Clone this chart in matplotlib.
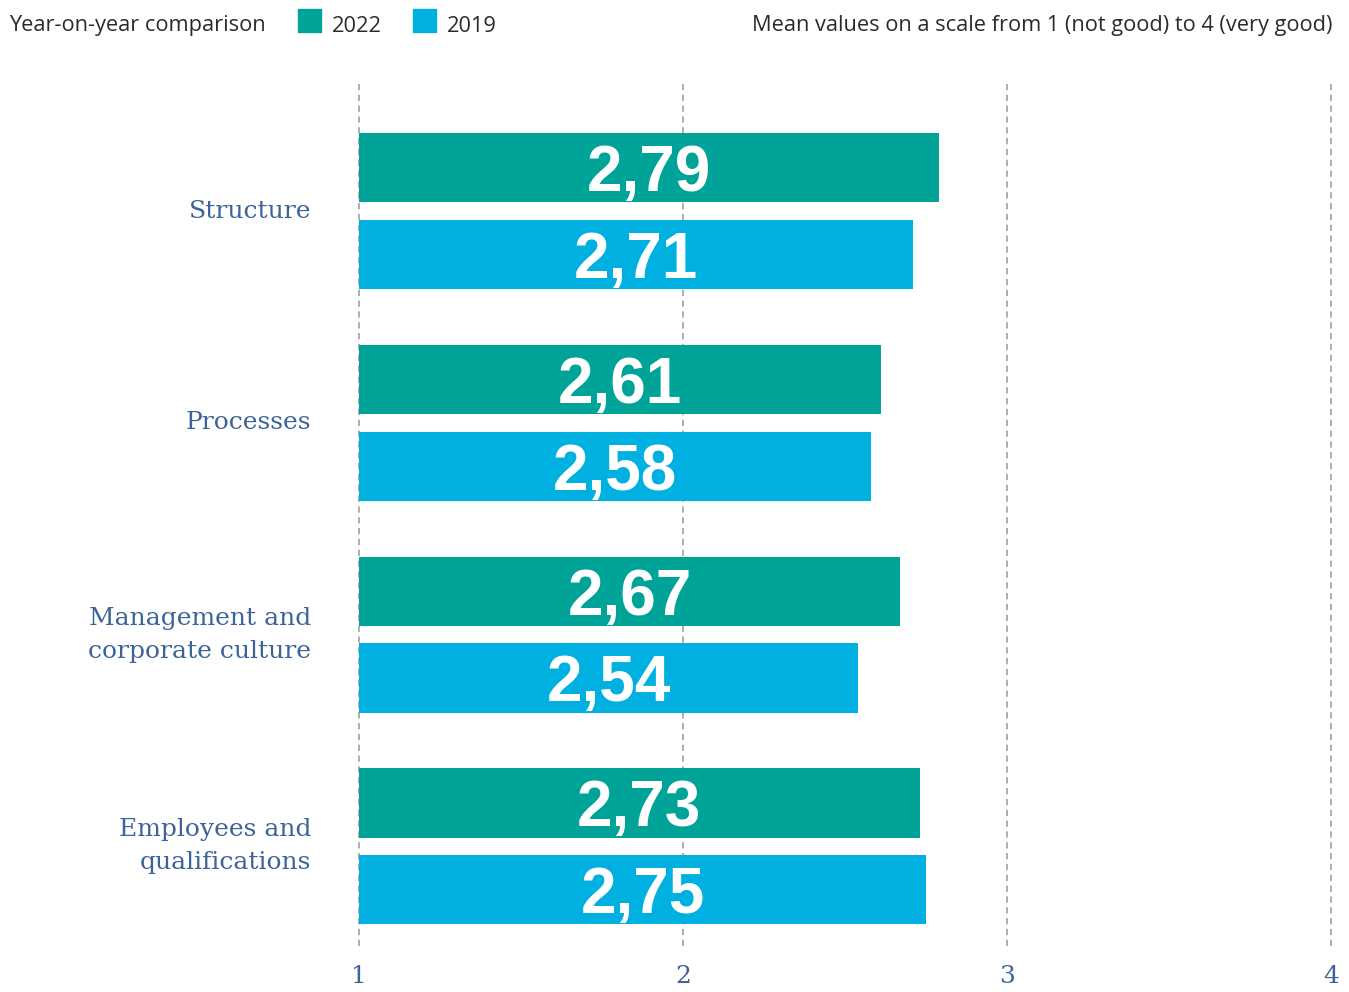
import numpy as np
import matplotlib.pyplot as plt

categories = ["Structure", "Processes", "Management and\ncorporate culture",
              "Employees and\nqualifications"]
values_2022 = [2.79, 2.61, 2.67, 2.73]
values_2019 = [2.71, 2.58, 2.54, 2.75]
xticks = [1, 2, 3, 4]

teal = "#00a398"
cyan = "#00b0e0"
label_blue = "#3d6498"
header_col = "#2b2b2b"
serif = "DejaVu Serif"

fig = plt.figure(figsize=(13.49, 9.92), dpi=100)
W, H = 1349, 992
# axes box in pixels: x 359..1331, y 84..946
ax = fig.add_axes([359 / W, 1 - 946 / H, (1331 - 359) / W, (946 - 84) / H])

pos = np.arange(len(categories))
bar_h = 0.326
off = 0.205
ax.set_xlim(1, 4)
ax.set_ylim((946 - 211) / 211.8, (84 - 211) / 211.8)

for x in xticks:
    ax.axvline(x, color="#a8a8a8", lw=1.3, ls=(0, (3.5, 2.5)), zorder=0, clip_on=False)

ax.barh(pos - off, np.array(values_2022) - 1, left=1, height=bar_h, color=teal, zorder=2)
ax.barh(pos + off, np.array(values_2019) - 1, left=1, height=bar_h, color=cyan, zorder=2)

for i in pos:
    for v, dy in ((values_2022[i], -off), (values_2019[i], off)):
        ax.text((1 + v) / 2, i + dy + 0.03, f"{v:.2f}".replace(".", ","), ha="center",
                va="center", color="white", fontsize=46, fontweight="bold",
                family="Liberation Sans", zorder=3)
    ax.text(-0.049, i, categories[i], transform=ax.get_yaxis_transform(), ha="right",
            va="center", color=label_blue, fontsize=18, family=serif,
            fontweight="light", linespacing=1.55)

ax.set_xticks(xticks)
ax.set_xticklabels([str(t) for t in xticks], family=serif, fontsize=18,
                   color=label_blue)
ax.tick_params(axis="x", length=0, pad=14)
ax.set_yticks([])
for s in ax.spines.values():
    s.set_visible(False)

# header row with legend
fig.text(9 / W, 1 - 26 / H, "Year-on-year comparison", fontsize=15.7, family="Open Sans",
         color=header_col, va="center")
for x0, col, lab in ((298, teal, "2022"), (413, cyan, "2019")):
    fig.patches.append(plt.Rectangle((x0 / W, 1 - 32 / H), 23 / W, 23 / H,
                                     transform=fig.transFigure, color=col))
    fig.text((x0 + 34) / W, 1 - 26 / H, lab, fontsize=15.7, family="Open Sans",
             color=header_col, va="center")
fig.text(1332 / W, 1 - 26 / H, "Mean values on a scale from 1 (not good) to 4 (very good)",
         fontsize=15.7, family="Open Sans", color=header_col, va="center", ha="right")

fig.savefig("out.png", dpi=100)
